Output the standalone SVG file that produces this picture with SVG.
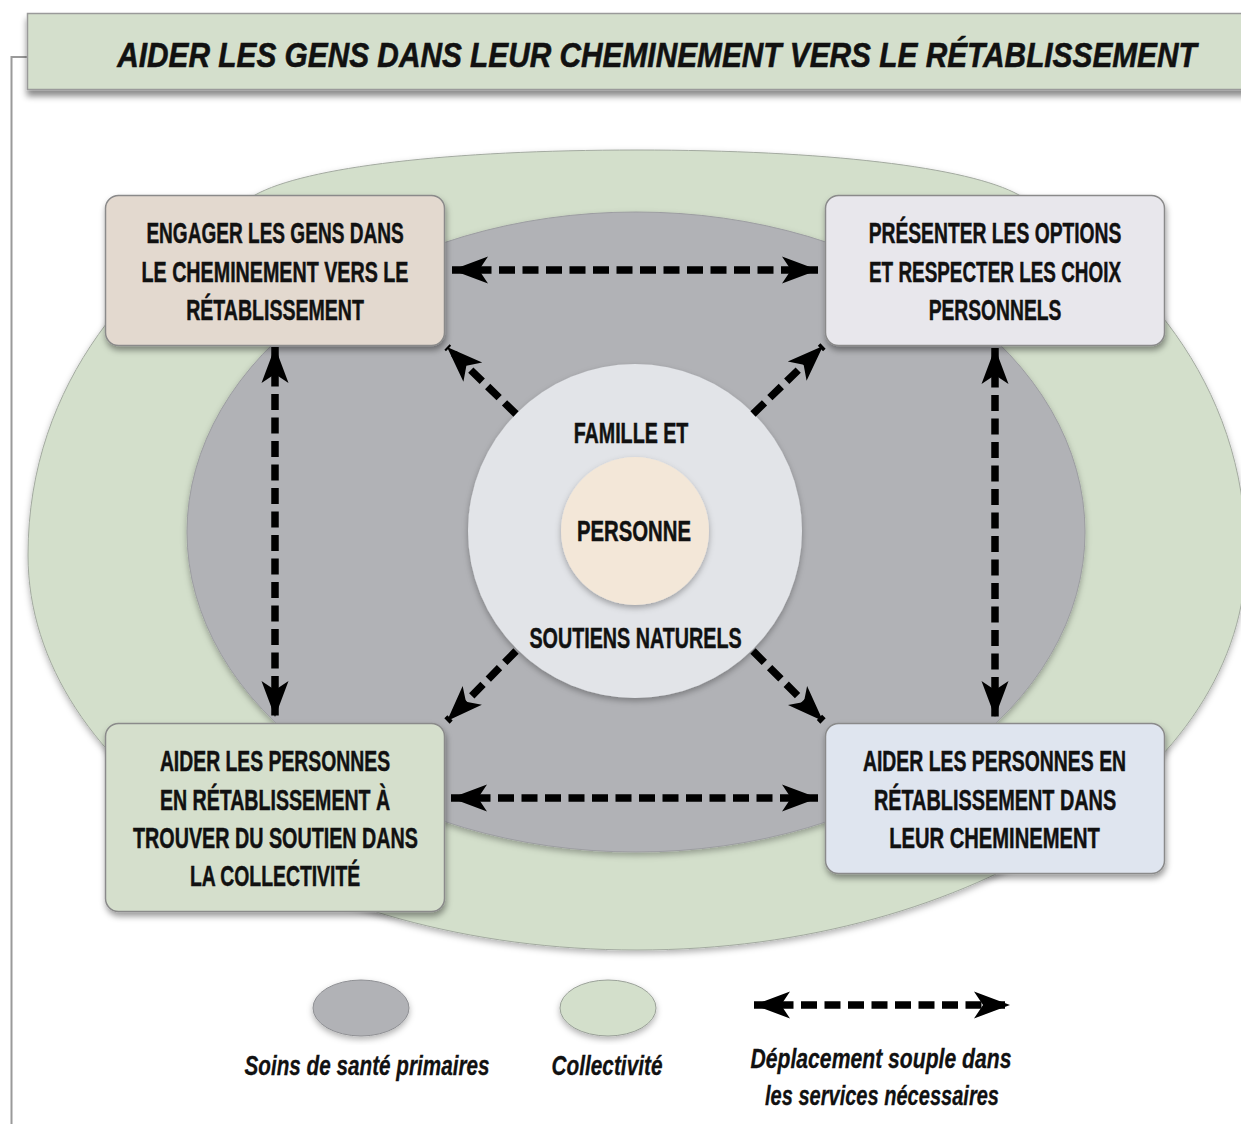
<svg xmlns="http://www.w3.org/2000/svg" width="1241" height="1124" viewBox="0 0 1241 1124">
  <defs>
    <filter id="shadow" x="-20%" y="-20%" width="140%" height="150%">
      <feDropShadow dx="1" dy="4" stdDeviation="3" flood-color="#000" flood-opacity="0.4"/>
    </filter>
    <filter id="softShadow" x="-10%" y="-10%" width="120%" height="125%">
      <feDropShadow dx="0" dy="3" stdDeviation="3" flood-color="#000" flood-opacity="0.3"/>
    </filter>
    <filter id="bannerShadow" x="-5%" y="-20%" width="110%" height="160%">
      <feDropShadow dx="0" dy="6" stdDeviation="3" flood-color="#000" flood-opacity="0.45"/>
    </filter>
    <marker id="head" markerUnits="userSpaceOnUse" viewBox="-40 -20 44 40" refX="0" refY="0" markerWidth="44" markerHeight="40" orient="auto-start-reverse">
      <path d="M0,0 L-36,-13.5 L-27,0 L-36,13.5 Z" fill="#000"/>
    </marker>
  </defs>
  <style>
    .box { stroke: #8a8a8a; stroke-width: 1.5; filter: url(#shadow); }
    .lbl { font-family: "Liberation Sans", Arial, sans-serif; font-weight: bold; font-size: 30px; fill: #111; stroke: #111; stroke-width: 0.5; text-anchor: middle; }
    .leg { font-family: "Liberation Sans", Arial, sans-serif; font-weight: bold; font-style: italic; font-size: 27px; fill: #111; stroke: #111; stroke-width: 0.3; text-anchor: middle; }
    .flow { fill: none; stroke: #000; stroke-width: 7.5; stroke-dasharray: 16 7.5; }
    .frame { fill: none; stroke: #9a9a9a; stroke-width: 2; }
  </style>

  <rect width="1241" height="1124" fill="#fff"/>

  <!-- page frame -->
  <path class="frame" d="M11.5,1124 V57 H28"/>

  <!-- title banner (condensed lettering: horizontal scale 0.85) -->
  <g id="title">
    <rect x="27.5" y="13.5" width="1230" height="76" fill="#d4dfcc" stroke="#9a9a9a" stroke-width="1.5" filter="url(#bannerShadow)"/>
    <text transform="translate(657,67) scale(0.85,1)" font-family="'Liberation Sans', Arial, sans-serif" font-weight="bold" font-style="italic" font-size="36" fill="#111" stroke="#111" stroke-width="0.6" text-anchor="middle" textLength="1270" lengthAdjust="spacingAndGlyphs">AIDER LES GENS DANS LEUR CHEMINEMENT VERS LE RÉTABLISSEMENT</text>
  </g>

  <!-- community area (rounded, flattened oval) -->
  <g id="collectivite">
    <path d="M637,150 C824,150 969,167 1019,195 C1134,262 1246,380 1246,555 C1246,773 973,950 637,950 C301,950 28,773 28,555 C28,380 140,262 255,195 C305,167 450,150 637,150 Z" fill="#d3dfcb" stroke="#a3aaa0" stroke-width="1" filter="url(#softShadow)"/>
  </g>
  <!-- primary care area -->
  <g id="soins-primaires">
    <ellipse cx="636" cy="532" rx="449" ry="320" fill="#b1b2b6" stroke="#9c9da1" stroke-width="1" filter="url(#softShadow)"/>
  </g>

  <!-- family circle and person; labels use a 0.75 horizontal scale for condensed lettering -->
  <g id="famille">
    <circle cx="635" cy="531" r="167" fill="#e2e4e8" filter="url(#softShadow)"/>
    <text class="lbl" transform="translate(631,443) scale(0.75,1)" textLength="153" lengthAdjust="spacingAndGlyphs">FAMILLE ET</text>
    <text class="lbl" transform="translate(635.5,648) scale(0.75,1)" textLength="283" lengthAdjust="spacingAndGlyphs">SOUTIENS NATURELS</text>
  </g>
  <g id="personne">
    <circle cx="635" cy="531" r="74" fill="#f3e7d8" filter="url(#softShadow)"/>
    <text class="lbl" transform="translate(634,541) scale(0.75,1)" textLength="152" lengthAdjust="spacingAndGlyphs">PERSONNE</text>
  </g>

  <!-- connectors -->
  <g id="connectors">
    <path class="flow" d="M452,270 L818,270" marker-start="url(#head)" marker-end="url(#head)"/>
    <path class="flow" d="M451,798 L818,798" marker-start="url(#head)" marker-end="url(#head)"/>
    <path class="flow" d="M275,347 L275,717" marker-start="url(#head)" marker-end="url(#head)"/>
    <path class="flow" d="M995,348 L995,717" marker-start="url(#head)" marker-end="url(#head)"/>
    <path class="flow" d="M516,414 L447,347" marker-end="url(#head)"/>
    <path class="flow" d="M753,414 L823,346" marker-end="url(#head)"/>
    <path class="flow" d="M516,651 L447,721" marker-end="url(#head)"/>
    <path class="flow" d="M753,651 L823,721" marker-end="url(#head)"/>
  </g>

  <!-- four service boxes -->
  <g id="engager">
    <rect class="box" x="105.5" y="195.5" width="339" height="150" rx="13" fill="#e3d9cf"/>
    <text class="lbl" transform="translate(275,243) scale(0.75,1)" textLength="343" lengthAdjust="spacingAndGlyphs">ENGAGER LES GENS DANS</text>
    <text class="lbl" transform="translate(275,282) scale(0.75,1)" textLength="356" lengthAdjust="spacingAndGlyphs">LE CHEMINEMENT VERS LE</text>
    <text class="lbl" transform="translate(275,320) scale(0.75,1)" textLength="237" lengthAdjust="spacingAndGlyphs">RÉTABLISSEMENT</text>
  </g>
  <g id="presenter">
    <rect class="box" x="825.5" y="195.5" width="339" height="150" rx="13" fill="#e8e7ec"/>
    <text class="lbl" transform="translate(995,243) scale(0.75,1)" textLength="337" lengthAdjust="spacingAndGlyphs">PRÉSENTER LES OPTIONS</text>
    <text class="lbl" transform="translate(995,282) scale(0.75,1)" textLength="336" lengthAdjust="spacingAndGlyphs">ET RESPECTER LES CHOIX</text>
    <text class="lbl" transform="translate(995,320) scale(0.75,1)" textLength="177" lengthAdjust="spacingAndGlyphs">PERSONNELS</text>
  </g>
  <g id="trouver-soutien">
    <rect class="box" x="105.5" y="723.5" width="339" height="188" rx="13" fill="#d5dfcc"/>
    <text class="lbl" transform="translate(275,771) scale(0.75,1)" textLength="307" lengthAdjust="spacingAndGlyphs">AIDER LES PERSONNES</text>
    <text class="lbl" transform="translate(275,810) scale(0.75,1)" textLength="307" lengthAdjust="spacingAndGlyphs">EN RÉTABLISSEMENT À</text>
    <text class="lbl" transform="translate(275.5,848) scale(0.75,1)" textLength="380" lengthAdjust="spacingAndGlyphs">TROUVER DU SOUTIEN DANS</text>
    <text class="lbl" transform="translate(275,886) scale(0.75,1)" textLength="227" lengthAdjust="spacingAndGlyphs">LA COLLECTIVITÉ</text>
  </g>
  <g id="cheminement">
    <rect class="box" x="825.5" y="723.5" width="339" height="150" rx="13" fill="#dfe5ef"/>
    <text class="lbl" transform="translate(994.5,771) scale(0.75,1)" textLength="351" lengthAdjust="spacingAndGlyphs">AIDER LES PERSONNES EN</text>
    <text class="lbl" transform="translate(995,810) scale(0.75,1)" textLength="323" lengthAdjust="spacingAndGlyphs">RÉTABLISSEMENT DANS</text>
    <text class="lbl" transform="translate(994.5,848) scale(0.75,1)" textLength="281" lengthAdjust="spacingAndGlyphs">LEUR CHEMINEMENT</text>
  </g>

  <!-- legend -->
  <g id="legend">
    <ellipse cx="361" cy="1008" rx="48" ry="28" fill="#b1b2b6" stroke="#8f9094" stroke-width="1" filter="url(#softShadow)"/>
    <ellipse cx="608" cy="1008" rx="48" ry="28" fill="#d3dfcb" stroke="#9aa198" stroke-width="1" filter="url(#softShadow)"/>
    <path class="flow" d="M754,1005 L1010,1005" marker-start="url(#head)" marker-end="url(#head)"/>
    <text class="leg" x="367" y="1075" textLength="245" lengthAdjust="spacingAndGlyphs">Soins de santé primaires</text>
    <text class="leg" x="607" y="1075" textLength="111" lengthAdjust="spacingAndGlyphs">Collectivité</text>
    <text class="leg" x="881" y="1068" textLength="261" lengthAdjust="spacingAndGlyphs">Déplacement souple dans</text>
    <text class="leg" x="882" y="1105" textLength="234" lengthAdjust="spacingAndGlyphs">les services nécessaires</text>
  </g>
</svg>
